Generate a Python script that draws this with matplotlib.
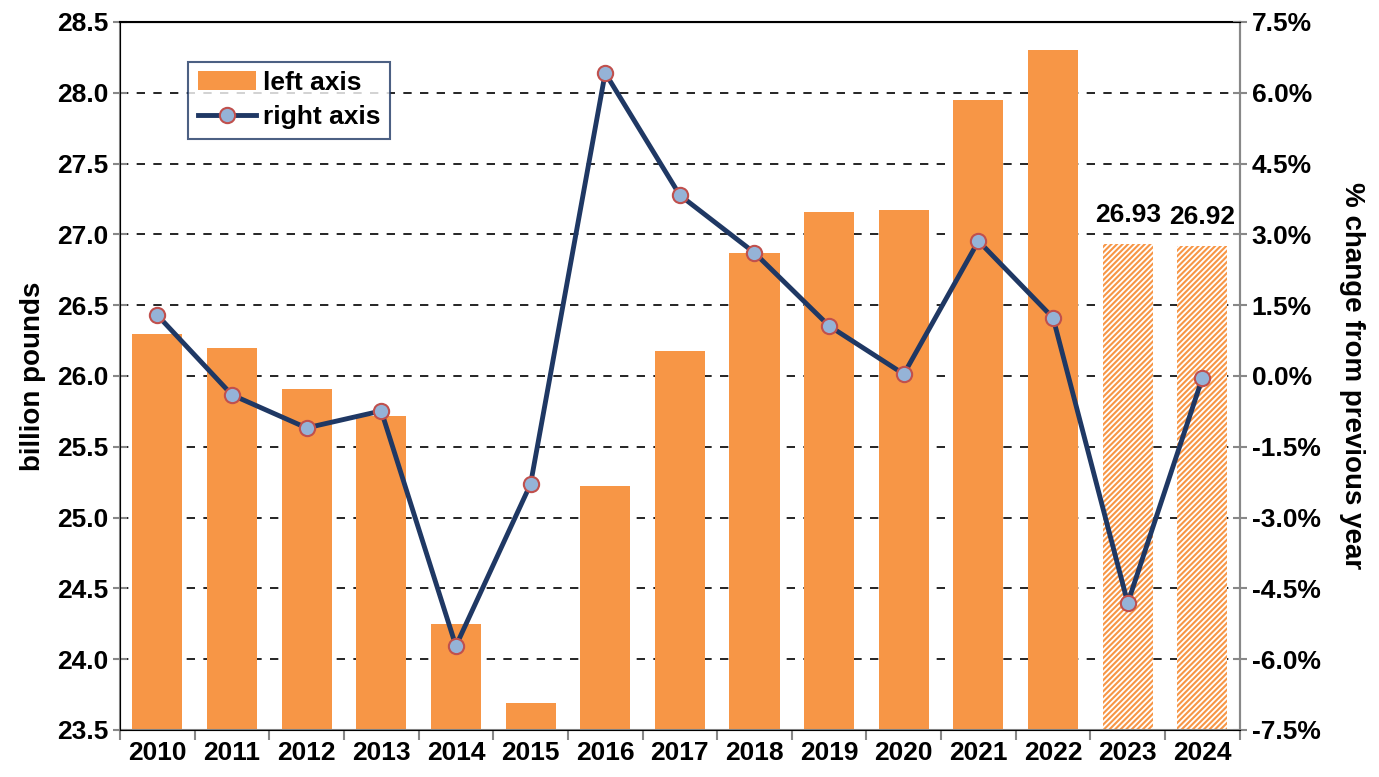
import numpy as np
import matplotlib
matplotlib.use("Agg")
import matplotlib.pyplot as plt
from matplotlib.ticker import FuncFormatter, FixedLocator

plt.rcParams['font.family'] = ['Liberation Sans', 'DejaVu Sans']
plt.rcParams['font.weight'] = 'bold'
plt.rcParams['hatch.linewidth'] = 1.5

years = ['2010', '2011', '2012', '2013', '2014', '2015', '2016', '2017',
         '2018', '2019', '2020', '2021', '2022', '2023', '2024']
pounds = [26.30, 26.20, 25.91, 25.72, 24.25, 23.69, 25.22, 26.18,
          26.87, 27.16, 27.17, 27.95, 28.30, 26.93, 26.92]
pct_change = [1.29, -0.40, -1.10, -0.74, -5.72, -2.29, 6.42, 3.83,
              2.61, 1.06, 0.04, 2.86, 1.23, -4.81, -0.04]
forecast = [False] * 13 + [True, True]

orange = '#F79646'
navy = '#1F3864'

fig = plt.figure(figsize=(13.79, 7.77), dpi=100)
ax = fig.add_axes([0.087, 0.0605, 0.812, 0.9112])
x = np.arange(len(years))

for i in range(len(years)):
    if forecast[i]:
        ax.bar(x[i], pounds[i] - 23.5, bottom=23.5, width=0.67, facecolor='white',
               edgecolor=orange, hatch='//////', linewidth=0, zorder=2)
        ax.text(x[i], pounds[i] + 0.12, f'{pounds[i]:.2f}', ha='center', va='bottom',
                fontsize=19, fontweight='bold')
    else:
        ax.bar(x[i], pounds[i] - 23.5, bottom=23.5, width=0.67, color=orange, zorder=2,
               label='left axis' if i == 0 else None)

ax.set_ylim(23.5, 28.5)
ax.set_xlim(-0.5, len(years) - 0.5)
ax.set_yticks(np.arange(23.5, 28.51, 0.5))
ax.yaxis.set_major_formatter(FuncFormatter(lambda v, p: f'{v:.1f}'))
ax.set_xticks(x)
ax.set_xticklabels(years)
ax.xaxis.set_minor_locator(FixedLocator(np.arange(-0.5, len(years), 1)))
ax.tick_params(axis='x', which='major', length=0, labelsize=19, pad=8)
ax.tick_params(axis='x', which='minor', length=7, color='#888888', width=1.5)
ax.tick_params(axis='y', labelsize=19, direction='inout', length=10, color='#888888', width=1.5)
ax.grid(axis='y', linestyle=(0, (5, 5)), color='black', linewidth=1.2, zorder=0)
ax.set_axisbelow(True)
for s in ['left', 'right', 'bottom']:
    ax.spines[s].set_color('#888888')
    ax.spines[s].set_linewidth(1.5)
ax.spines['top'].set_color('black')
ax.spines['top'].set_linewidth(1.5)
ax.set_ylabel('billion pounds', fontsize=20, fontweight='bold', labelpad=8)

ax2 = ax.twinx()
ax2.plot(x, pct_change, color=navy, linewidth=3.5, marker='o', markersize=11,
         markerfacecolor='#95B3D7', markeredgecolor='#C0504D', markeredgewidth=1.5,
         label='right axis', zorder=5)
ax2.set_ylim(-7.5, 7.5)
ax2.set_yticks(np.arange(-7.5, 7.51, 1.5))
ax2.yaxis.set_major_formatter(FuncFormatter(lambda v, p: f'{v:.1f}%'))
ax2.tick_params(axis='y', labelsize=19, direction='inout', length=10, color='#888888', width=1.5)
ax2.spines['right'].set_color('#888888')
ax2.spines['right'].set_linewidth(1.5)
ax2.set_ylabel('% change from previous year', fontsize=20, fontweight='bold',
               rotation=270, labelpad=32)

h1, l1 = ax.get_legend_handles_labels()
h2, l2 = ax2.get_legend_handles_labels()
leg = ax2.legend(h1 + h2, l1 + l2, loc='upper left', bbox_to_anchor=(0.061, 0.944),
                 borderaxespad=0, fontsize=19, frameon=True, fancybox=False,
                 handlelength=2.2, handletextpad=0.3, borderpad=0.35, labelspacing=0.4)
leg.get_frame().set_edgecolor(navy)
leg.get_frame().set_linewidth(1.5)

fig.savefig('out.png', dpi=100)
